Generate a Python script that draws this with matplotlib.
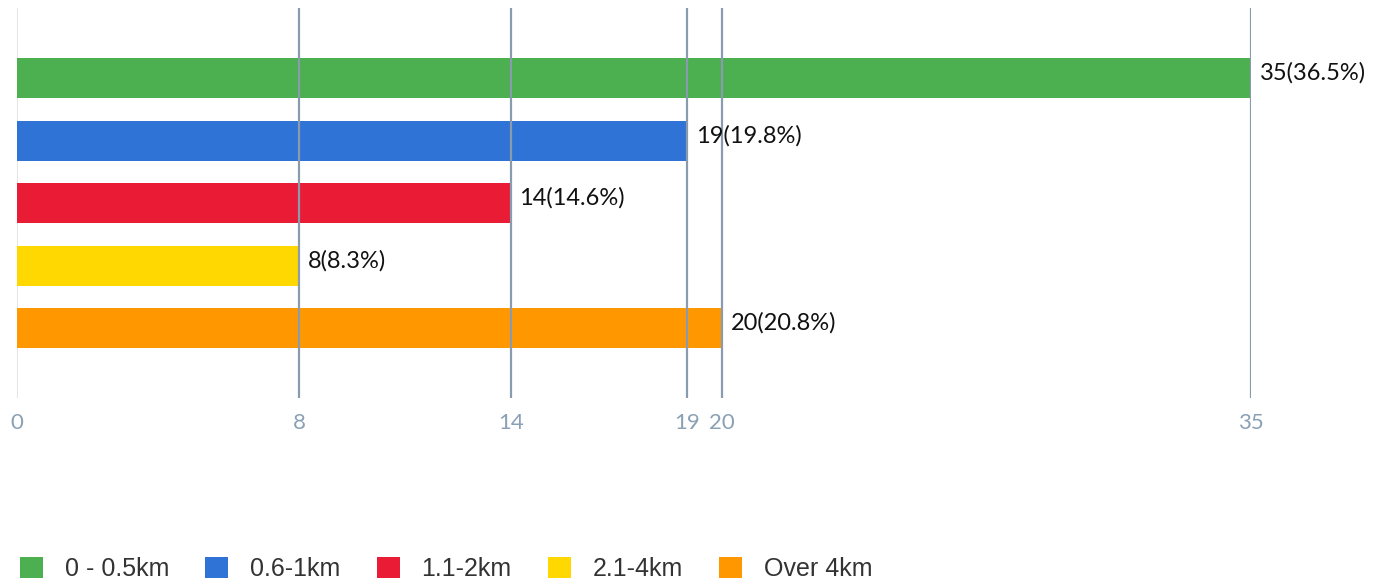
import numpy as np
import matplotlib.pyplot as plt
from matplotlib.patches import Patch

# dados
categorias = ['0 - 0.5km', '0.6-1km', '1.1-2km', '2.1-4km', 'Over 4km']
valores = [35, 19, 14, 8, 20]
percentuais = [36.5, 19.8, 14.6, 8.3, 20.8]
cores = ['#4caf50', '#3073d6', '#e91b35', '#fed800', '#ff9800']

W, H = 1383, 584
fig = plt.figure(figsize=(W / 100, H / 100), dpi=100)
ax = fig.add_axes([17 / W, 1 - 398 / H, 1234 / W, 390 / H])

y = np.arange(len(valores))
ax.barh(y, valores, height=0.64, color=cores, zorder=1)

# linhas de grade nos valores
ticks = sorted(set([0] + valores))
for t in ticks:
    if t == 0:
        ax.axvline(t, color='#e0e0e0', lw=1.2, zorder=0)
    else:
        ax.axvline(t, color='#8a9bb0', lw=1.6, zorder=2)

for yi, v, p in zip(y, valores, percentuais):
    ax.text(v + 0.25, yi - 0.08, '%d(%.1f%%)' % (v, p), va='center', ha='left',
            fontsize=17, family='Lato', color='#111111')

ax.set_xlim(0, 35)
ax.set_ylim(len(valores) - 1 + 1.12, -1.12)
ax.set_xticks(ticks)
ax.set_xticklabels([str(t) for t in ticks], fontsize=16, family='Lato', color='#8aa0b4')
ax.tick_params(axis='x', length=0, pad=11)
ax.set_yticks([])
for s in ax.spines.values():
    s.set_visible(False)

handles = [Patch(facecolor=c, edgecolor='none') for c in cores]
fig.legend(handles, categorias, loc='lower left', bbox_to_anchor=(20 / W, 3 / H), ncol=5,
           frameon=False, prop={'family': 'Liberation Sans', 'size': 18}, handlelength=0.92,
           handleheight=0.92, handletextpad=0.87, columnspacing=1.45, labelcolor='#333333',
           borderaxespad=0, borderpad=0)

plt.savefig('out.png', dpi=100)
